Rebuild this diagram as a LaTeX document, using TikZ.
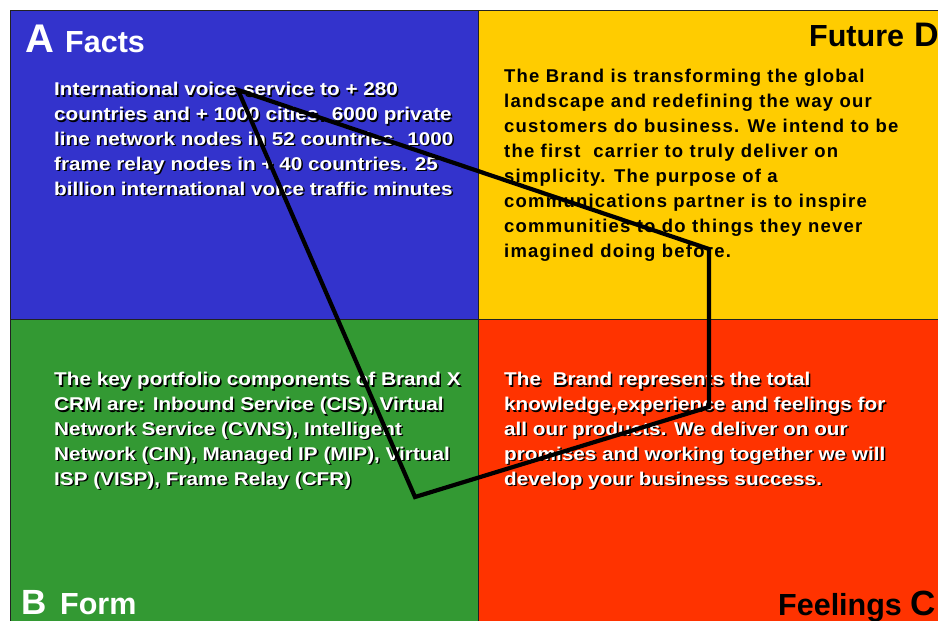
\documentclass[tikz,border=0pt]{standalone}
\usepackage{fontspec}
\setmainfont{Liberation Sans}
\newfontfamily\widebody[FakeStretch=1.12]{Liberation Sans}
\newfontfamily\spacedbody[LetterSpace=6.6]{Liberation Sans}
\definecolor{factsblue}{HTML}{3333CC}
\definecolor{futureyellow}{HTML}{FFCC00}
\definecolor{formgreen}{HTML}{339933}
\definecolor{feelred}{HTML}{FF3300}
\definecolor{edge}{HTML}{222222}
\begin{document}
\begin{tikzpicture}[x=1pt,y=-1pt,
  quad/.style={draw=edge,line width=0.8pt},
  body/.style={anchor=base west,align=left,inner sep=0pt,
    font=\widebody\bfseries\fontsize{18.5}{24.8}\selectfont},
  whitebody/.style={body,text=white},
  shadowbody/.style={body,text=black},
  darkbody/.style={body,text=black,
    font=\spacedbody\bfseries\fontsize{18.5}{24.9}\selectfont},
  bigletter/.style={anchor=base west,inner sep=0pt,font=\bfseries\fontsize{40}{40}\selectfont},
  title/.style={anchor=base west,inner sep=0pt,font=\bfseries\fontsize{30.5}{30.5}\selectfont},
  path/.style={line width=4.2pt,black,line join=miter}]
\useasboundingbox (0,0) rectangle (938,621);
\fill[white] (0,0) rectangle (938,621);
\begin{scope}
\clip (0,0) rectangle (938,621);
% quadrants
\fill[factsblue] (10,10) rectangle (478,319);
\fill[futureyellow] (478,10) rectangle (960,319);
\fill[formgreen] (10,319) rectangle (478,660);
\fill[feelred] (478,319) rectangle (960,660);
\draw[quad] (10,660) -- (10,10) -- (960,10);
\draw[quad] (478,10) -- (478,660);
\draw[quad] (10,319) -- (960,319);

% titles
\node[bigletter,text=white] (la) at (25,52) {A};
\node[title,text=white] (ta) at (65,52) {Facts};
\node[title,text=black] (td) at (809,46) {Future};
\node[bigletter,text=black,font=\bfseries\fontsize{34}{34}\selectfont] (ld) at (914,46) {D};
\node[bigletter,text=white,font=\bfseries\fontsize{35}{35}\selectfont] (lb) at (21,614) {B};
\node[title,text=white] (tb) at (60,614) {Form};
\node[title,text=black] (tc) at (778,615) {Feelings};
\node[bigletter,text=black,font=\bfseries\fontsize{35}{35}\selectfont] (lc) at (910,615) {C};

% Facts text (anchored at the baseline of its last line)
\node[shadowbody] (factsshadow) at (55.5,196.5) {International voice service to + 280\\countries and + 1000 cities. 6000 private\\line network nodes in 52 countries. 1000\\frame relay nodes in + 40 countries. 25\\billion international voice traffic minutes};
\node[whitebody] (facts) at (54,195) {International voice service to + 280\\countries and + 1000 cities. 6000 private\\line network nodes in 52 countries. 1000\\frame relay nodes in + 40 countries. 25\\billion international voice traffic minutes};

% Future text
\node[darkbody] (future) at (504,257) {The Brand is transforming the global\\landscape and redefining the way our\\customers do business. We intend to be\\the first\ \ carrier to truly deliver on\\simplicity. The purpose of a\\communications partner is to inspire\\communities to do things they never\\imagined doing before.};

% Form text
\node[shadowbody] (formshadow) at (55.5,486.5) {The key portfolio components of Brand X\\CRM are: Inbound Service (CIS), Virtual\\Network Service (CVNS), Intelligent\\Network (CIN), Managed IP (MIP), Virtual\\ISP (VISP), Frame Relay (CFR)};
\node[whitebody] (form) at (54,485) {The key portfolio components of Brand X\\CRM are: Inbound Service (CIS), Virtual\\Network Service (CVNS), Intelligent\\Network (CIN), Managed IP (MIP), Virtual\\ISP (VISP), Frame Relay (CFR)};

% Feelings text
\node[shadowbody] (feelshadow) at (505.5,486.5) {The\ \ Brand represents the total\\knowledge,experience and feelings for\\all our products. We deliver on our\\promises and working together we will\\develop your business success.};
\node[whitebody] (feel) at (504,485) {The\ \ Brand represents the total\\knowledge,experience and feelings for\\all our products. We deliver on our\\promises and working together we will\\develop your business success.};

% profile polygon across the four quadrants
\coordinate (pa) at (238,90);
\coordinate (pd) at (709,249);
\coordinate (pc) at (709,407);
\coordinate (pb) at (415,497);
\draw[path] (pa) -- (pd) -- (pc) -- (pb) -- cycle;
\end{scope}
\end{tikzpicture}
\end{document}
